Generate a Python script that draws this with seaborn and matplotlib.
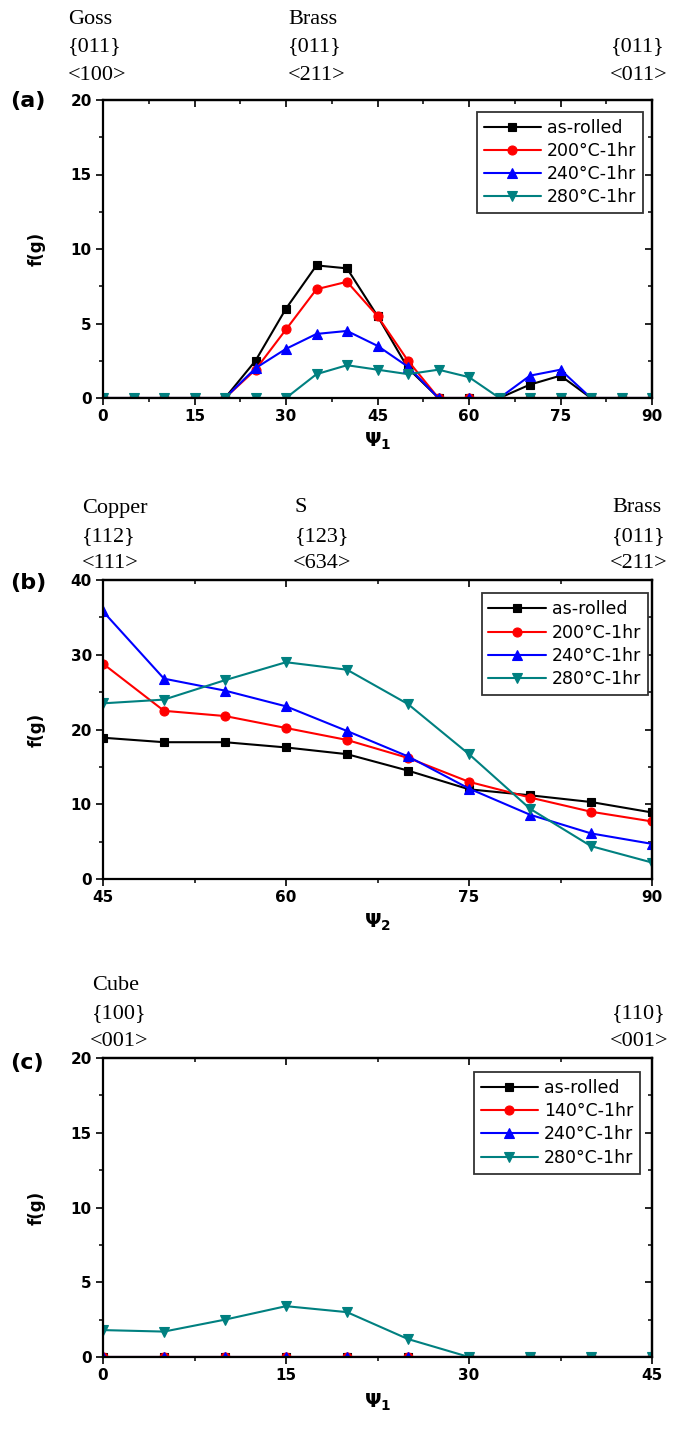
import numpy as np
import pandas as pd
import seaborn as sns
import matplotlib.pyplot as plt
from matplotlib.ticker import MultipleLocator

# ---- data ----
psi_a = [0, 5, 10, 15, 20, 25, 30, 35, 40, 45, 50, 55, 60, 65, 70, 75, 80, 85, 90]
a_asrolled = [0, 0, 0, 0, 0, 2.5, 6.0, 8.9, 8.7, 5.5, 2.0, 0, 0, 0, 0.9, 1.5, 0, 0, 0]
a_200 = [0, 0, 0, 0, 0, 1.9, 4.6, 7.3, 7.8, 5.5, 2.5, 0, 0, 0, 0, 0, 0, 0, 0]
a_240 = [0, 0, 0, 0, 0, 2.0, 3.3, 4.3, 4.5, 3.5, 2.1, 0, 0, 0, 1.5, 1.9, 0, 0, 0]
a_280 = [0, 0, 0, 0, 0, 0, 0, 1.6, 2.2, 1.9, 1.6, 1.9, 1.4, 0, 0, 0, 0, 0, 0]

psi_b = [45, 50, 55, 60, 65, 70, 75, 80, 85, 90]
b_asrolled = [18.9, 18.3, 18.3, 17.6, 16.7, 14.5, 12.0, 11.2, 10.3, 8.9]
b_200 = [28.8, 22.5, 21.8, 20.2, 18.6, 16.2, 13.0, 10.9, 9.0, 7.7]
b_240 = [35.8, 26.8, 25.2, 23.1, 19.8, 16.4, 12.1, 8.6, 6.1, 4.7]
b_280 = [23.5, 24.0, 26.6, 29.0, 28.0, 23.4, 16.7, 9.4, 4.4, 2.2]

psi_c = [0, 5, 10, 15, 20, 25, 30, 35, 40, 45]
c_asrolled = [0, 0, 0, 0, 0, 0, 0, 0, 0, 0]
c_140 = [0, 0, 0, 0, 0, 0, 0, 0, 0, 0]
c_240 = [0, 0, 0, 0, 0, 0, 0, 0, 0, 0]
c_280 = [1.8, 1.7, 2.5, 3.4, 3.0, 1.2, 0, 0, 0, 0]

labels_ab = ["as-rolled", "200°C-1hr", "240°C-1hr", "280°C-1hr"]
labels_c = ["as-rolled", "140°C-1hr", "240°C-1hr", "280°C-1hr"]
colors = ["black", "#ff0000", "#0000ff", "#008080"]
markers = ["s", "o", "^", "v"]
msizes = [5.5, 6.5, 7, 7]

sns.set_style("ticks")
plt.rcParams["font.family"] = ["DejaVu Sans"]
for k in ["text.color", "axes.labelcolor", "xtick.color", "ytick.color", "axes.edgecolor"]:
    plt.rcParams[k] = "black"

W, H = 673, 1429
fig = plt.figure(figsize=(W / 100, H / 100), dpi=100)


def make_axes(left, right, top, bottom):
    return fig.add_axes([left / W, 1 - bottom / H, (right - left) / W, (bottom - top) / H])


def style_axes(ax, xlim, ylim, xmajor, xminor, ymajor, yminor):
    ax.set_xlim(*xlim)
    ax.set_ylim(*ylim)
    ax.xaxis.set_major_locator(MultipleLocator(xmajor))
    ax.xaxis.set_minor_locator(MultipleLocator(xminor))
    ax.yaxis.set_major_locator(MultipleLocator(ymajor))
    ax.yaxis.set_minor_locator(MultipleLocator(yminor))
    for s in ax.spines.values():
        s.set_visible(True)
        s.set_linewidth(1.6)
        s.set_color("black")
    ax.tick_params(which="major", direction="out", length=5, width=1.2, labelsize=11, pad=3)
    ax.tick_params(which="minor", direction="out", length=3, width=1.1)
    for lab in ax.get_xticklabels() + ax.get_yticklabels():
        lab.set_fontweight("bold")
    # inward ticks on top and right, like the original
    top = ax.secondary_xaxis("top")
    top.xaxis.set_major_locator(MultipleLocator(xmajor))
    top.xaxis.set_minor_locator(MultipleLocator(xminor))
    top.tick_params(which="major", direction="in", length=5, width=1.2, labeltop=False)
    top.tick_params(which="minor", direction="in", length=3, width=1.1)
    right = ax.secondary_yaxis("right")
    right.yaxis.set_major_locator(MultipleLocator(ymajor))
    right.yaxis.set_minor_locator(MultipleLocator(yminor))
    right.tick_params(which="major", direction="in", length=5, width=1.2, labelright=False)
    right.tick_params(which="minor", direction="in", length=3, width=1.1)
    for sec in (top, right):
        for s in sec.spines.values():
            s.set_linewidth(1.6)


def draw(ax, x, series, labels):
    for y, lab, c, m, ms in zip(series, labels, colors, markers, msizes):
        sns.lineplot(x=x, y=y, ax=ax, color=c, marker=m, markersize=ms,
                     markeredgecolor=c, markeredgewidth=0.8, linewidth=1.5, label=lab)


def legend(ax, xr, yr):
    leg = ax.legend(loc="upper right", bbox_to_anchor=(xr, yr), borderaxespad=0,
                    prop={"size": 12.5}, handlelength=3.3, labelspacing=0.3,
                    handletextpad=0.35, borderpad=0.4, fancybox=False,
                    framealpha=1, edgecolor="#333333")
    leg.get_frame().set_linewidth(1.3)


def head(x, y, s):
    fig.text(x / W, 1 - y / H, s, ha="left", va="center", fontsize=16,
             family="Liberation Serif")


# ---- (a) ----
ax_a = make_axes(103, 652, 100, 398)
draw(ax_a, psi_a, [a_asrolled, a_200, a_240, a_280], labels_ab)
style_axes(ax_a, (0, 90), (0, 20), 15, 7.5, 5, 2.5)
legend(ax_a, 0.984, 0.960)
ax_a.set_xlabel("Ψ$_\\mathbf{1}$", fontsize=14, fontweight="bold")
ax_a.set_ylabel("f(g)", fontsize=12, fontweight="bold")
ax_a.xaxis.set_label_coords(0.5, -0.11)
ax_a.yaxis.set_label_coords(-0.104, 0.5)
for x, y, s in [(68, 20, "Goss"), (68, 47, "{011}"), (68, 75, "<100>"),
                (288, 20, "Brass"), (288, 47, "{011}"), (288, 75, "<211>"),
                (611, 47, "{011}"), (610, 75, "<011>")]:
    head(x, y, s)
fig.text(10 / W, 1 - 101 / H, "(a)", ha="left", va="center", fontsize=16, fontweight="bold")

# ---- (b) ----
ax_b = make_axes(103, 652, 580, 879)
draw(ax_b, psi_b, [b_asrolled, b_200, b_240, b_280], labels_ab)
style_axes(ax_b, (45, 90), (0, 40), 15, 7.5, 10, 5)
legend(ax_b, 0.993, 0.955)
ax_b.set_xlabel("Ψ$_\\mathbf{2}$", fontsize=14, fontweight="bold")
ax_b.set_ylabel("f(g)", fontsize=12, fontweight="bold")
ax_b.xaxis.set_label_coords(0.5, -0.11)
ax_b.yaxis.set_label_coords(-0.104, 0.5)
for x, y, s in [(82, 508, "Copper"), (82, 537, "{112}"), (82, 563, "<111>"),
                (295, 508, "S"), (295, 537, "{123}"), (293, 563, "<634>"),
                (612, 508, "Brass"), (612, 537, "{011}"), (610, 563, "<211>")]:
    head(x, y, s)
fig.text(10 / W, 1 - 583 / H, "(b)", ha="left", va="center", fontsize=16, fontweight="bold")

# ---- (c) ----
ax_c = make_axes(103, 652, 1058, 1357)
draw(ax_c, psi_c, [c_asrolled, c_140, c_240, c_280], labels_c)
style_axes(ax_c, (0, 45), (0, 20), 15, 7.5, 5, 2.5)
legend(ax_c, 0.979, 0.953)
ax_c.set_xlabel("Ψ$_\\mathbf{1}$", fontsize=14, fontweight="bold")
ax_c.set_ylabel("f(g)", fontsize=12, fontweight="bold")
ax_c.xaxis.set_label_coords(0.5, -0.115)
ax_c.yaxis.set_label_coords(-0.104, 0.5)
for x, y, s in [(92, 986, "Cube"), (92, 1014, "{100}"), (90, 1042, "<001>"),
                (612, 1014, "{110}"), (610, 1042, "<001>")]:
    head(x, y, s)
fig.text(10 / W, 1 - 1063 / H, "(c)", ha="left", va="center", fontsize=16, fontweight="bold")

fig.savefig("out.png", dpi=100)
